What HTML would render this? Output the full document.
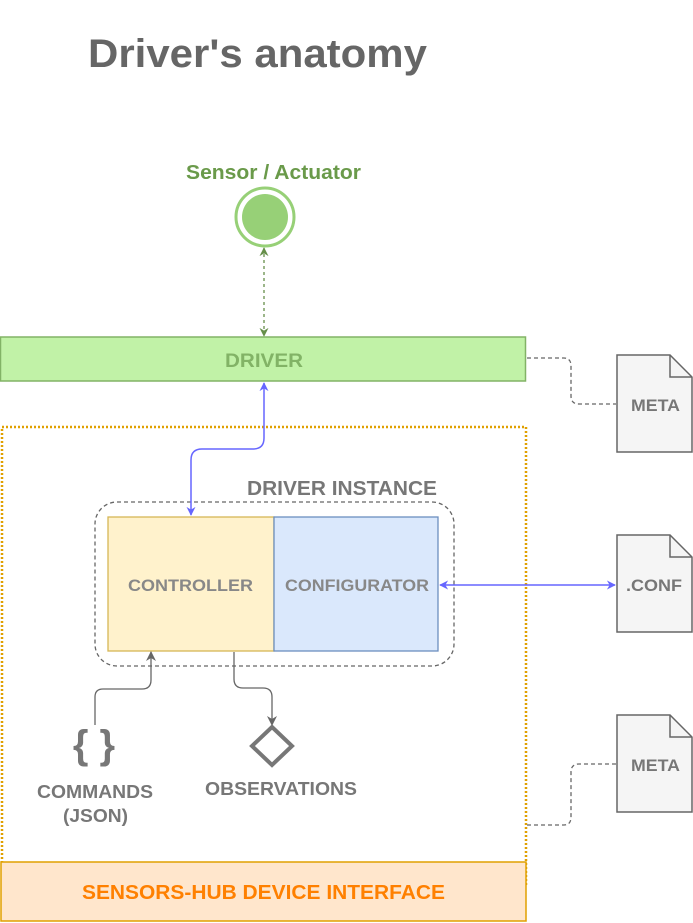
<!DOCTYPE html>
<html><head><meta charset="utf-8"><style>
html,body{margin:0;padding:0;background:#fff;}
svg{display:block;}
text{font-family:"Liberation Sans",Arial,sans-serif;font-weight:bold;}
</style></head><body>
<svg width="693" height="923" viewBox="0 0 693 923" xmlns="http://www.w3.org/2000/svg">
<defs>
<marker id="ab" viewBox="0 0 10 10" refX="9" refY="5" markerWidth="9" markerHeight="9" markerUnits="userSpaceOnUse" orient="auto-start-reverse"><path d="M0,0 L10,5 L0,10 L3,5 z" fill="#6666ff"/></marker>
<marker id="ag" viewBox="0 0 10 10" refX="9" refY="5" markerWidth="9" markerHeight="9" markerUnits="userSpaceOnUse" orient="auto-start-reverse"><path d="M0,0 L10,5 L0,10 L3,5 z" fill="#668f4a"/></marker>
<marker id="ay" viewBox="0 0 10 10" refX="9" refY="5" markerWidth="10" markerHeight="10" markerUnits="userSpaceOnUse" orient="auto-start-reverse"><path d="M0,0 L10,5 L0,10 L3,5 z" fill="#666"/></marker>
</defs>
<text x="88" y="67" font-size="40" fill="#666" textLength="339" lengthAdjust="spacingAndGlyphs">Driver's anatomy</text>
<text x="186" y="179" font-size="20" fill="#6a9a4a" textLength="175" lengthAdjust="spacingAndGlyphs">Sensor / Actuator</text>
<circle cx="265" cy="217" r="29" fill="#fff" stroke="#97d077" stroke-width="3"/>
<circle cx="265" cy="217" r="23" fill="#97d077"/>
<line x1="264" y1="248" x2="264" y2="336" stroke="#668f4a" stroke-width="1.3" stroke-dasharray="3,3" marker-start="url(#ag)" marker-end="url(#ag)"/>
<rect x="0.5" y="337" width="525" height="44" fill="#c1f2a7" stroke="#82b366" stroke-width="1.5"/>
<text x="225" y="367" font-size="19" fill="#82b366" textLength="78" lengthAdjust="spacingAndGlyphs">DRIVER</text>
<path d="M527,358 H564 Q571,358 571,366 V396 Q571,404 579,404 H616" fill="none" stroke="#666" stroke-width="1.3" stroke-dasharray="4,3"/>
<g><path d="M617,355 H670 L692,377 V452 H617 Z" fill="#f5f5f5" stroke="#666" stroke-width="1.5"/><path d="M670,355 V377 H692" fill="none" stroke="#666" stroke-width="1.5"/><text x="631" y="411" font-size="17" fill="#777" textLength="49" lengthAdjust="spacingAndGlyphs">META</text></g>
<g><path d="M617,535 H670 L692,557 V632 H617 Z" fill="#f5f5f5" stroke="#666" stroke-width="1.5"/><path d="M670,535 V557 H692" fill="none" stroke="#666" stroke-width="1.5"/><text x="626" y="591" font-size="17" fill="#777" textLength="56" lengthAdjust="spacingAndGlyphs">.CONF</text></g>
<g><path d="M617,715 H670 L692,737 V812 H617 Z" fill="#f5f5f5" stroke="#666" stroke-width="1.5"/><path d="M670,715 V737 H692" fill="none" stroke="#666" stroke-width="1.5"/><text x="631" y="771" font-size="17" fill="#777" textLength="49" lengthAdjust="spacingAndGlyphs">META</text></g>
<rect x="2" y="427" width="524" height="460" fill="none" stroke="#e0a000" stroke-width="2.5" stroke-dasharray="2,2"/>
<path d="M527,825 H564 Q571,825 571,817 V772 Q571,764 579,764 H616" fill="none" stroke="#666" stroke-width="1.3" stroke-dasharray="4,3"/>
<text x="247" y="495" font-size="20" fill="#777" textLength="190" lengthAdjust="spacingAndGlyphs">DRIVER INSTANCE</text>
<rect x="95" y="502" width="359" height="164" rx="22" fill="none" stroke="#666" stroke-width="1.3" stroke-dasharray="4,3"/>
<rect x="108" y="517" width="166" height="134" fill="#fff2cc" stroke="#d6b656" stroke-width="1.3"/>
<rect x="274" y="517" width="164" height="134" fill="#dae8fc" stroke="#6c8ebf" stroke-width="1.3"/>
<text x="128" y="591" font-size="17" fill="#888" textLength="125" lengthAdjust="spacingAndGlyphs">CONTROLLER</text>
<text x="285" y="591" font-size="17" fill="#888" textLength="144" lengthAdjust="spacingAndGlyphs">CONFIGURATOR</text>
<path d="M264,383 V438 Q264,449 253,449 H202 Q191,449 191,460 V515" fill="none" stroke="#6666ff" stroke-width="1.5" marker-start="url(#ab)" marker-end="url(#ab)"/>
<line x1="440" y1="585" x2="615" y2="585" stroke="#6666ff" stroke-width="1.5" marker-start="url(#ab)" marker-end="url(#ab)"/>
<path d="M95,725 V697 Q95,689 103,689 H142 Q151,689 151,680 V652" fill="none" stroke="#666" stroke-width="1.3" marker-end="url(#ay)"/>
<path d="M234,652 V679 Q234,688 243,688 H263 Q272,688 272,697 V725" fill="none" stroke="#666" stroke-width="1.3" marker-end="url(#ay)"/>
<text x="94" y="758" font-size="40" fill="#777" text-anchor="middle">{ }</text>
<path d="M272,727 L292,746 L272,765 L252,746 Z" fill="none" stroke="#777" stroke-width="4"/>
<text x="37" y="798" font-size="18" fill="#777" textLength="116" lengthAdjust="spacingAndGlyphs">COMMANDS</text>
<text x="63" y="822" font-size="18" fill="#777" textLength="65" lengthAdjust="spacingAndGlyphs">(JSON)</text>
<text x="205" y="795" font-size="18" fill="#777" textLength="152" lengthAdjust="spacingAndGlyphs">OBSERVATIONS</text>
<rect x="1" y="862" width="525" height="59" fill="#ffe6cc" stroke="#e0a000" stroke-width="1.5"/>
<text x="82" y="899" font-size="20" fill="#ff8000" textLength="363" lengthAdjust="spacingAndGlyphs">SENSORS-HUB DEVICE INTERFACE</text>
</svg>
</body></html>
